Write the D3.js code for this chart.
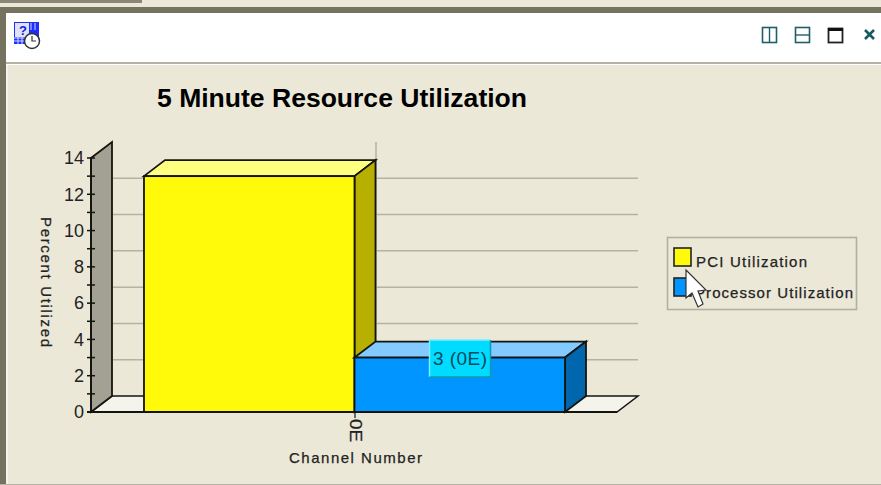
<!DOCTYPE html>
<html><head><meta charset="utf-8">
<script src="https://cdn.jsdelivr.net/npm/d3@7/dist/d3.min.js"></script>
<style>html,body{margin:0;padding:0;background:#ebe8d8;overflow:hidden}svg{display:block}text{font-family:"Liberation Sans",Arial,sans-serif;fill:#111}</style>
</head><body><svg id="c" width="881" height="485"></svg>
<script>
const titleText="5 Minute Resource Utilization";
const yLabel="Percent Utilized";
const xLabel="Channel Number";
const categories=["0E"];
const seriesNames=["PCI Utilization","Processor Utilization"];
const seriesValues=[13,3];
const seriesColors=[{front:"#fff90a",top:"#ffff80",side:"#b8b000"},{front:"#0095ff",top:"#82caff",side:"#0066ad"}];
const yTicks=[0,2,4,6,8,10,12,14];
const yMinor=[1,3,5,7,9,11,13];
const tooltip="3 (0E)";

const svg=d3.select("#c");
const W=881,H=485,ink="#14140e";
const rect=(x,y,w,h,f,extra={})=>{const r=svg.append("rect").attr("x",x).attr("y",y).attr("width",w).attr("height",h).attr("fill",f);
  for(const k in extra) r.attr(k,extra[k]);return r;};
const poly=(pts,f,s,sw=1.8)=>svg.append("polygon").attr("points",pts.map(p=>p.join(",")).join(" ")).attr("fill",f).attr("stroke",s||"none").attr("stroke-width",sw).attr("stroke-linejoin","miter");
const line=(x1,y1,x2,y2,s,sw=1)=>svg.append("line").attr("x1",x1).attr("y1",y1).attr("x2",x2).attr("y2",y2).attr("stroke",s).attr("stroke-width",sw);
const label=(sel)=>sel.style("fill","#222").attr("stroke","#222").attr("stroke-width",.25);

// window chrome
rect(0,0,W,H,"#ebe8d8");
rect(0,0,142,3,"#8a8778");
rect(0,7,W,6,"#75725f");
rect(0,7,6,H-7,"#75725f");
rect(6,13,W-6,49,"#ffffff");
rect(6,62,W-6,2,"#b5b2a3");
rect(6,64,W-6,1,"#ffffff");
rect(6,65,2,H-65,"#f6f4ea");
rect(0,484,W,1,"#b5b2a3");

// header icons
rect(14,22,25,22,"#1c2dff");
rect(15,23,14,14,"#dfe3f5");
[18,22,26,30,34].forEach(v=>line(v,36,v,44,"#d8dcff",1));
[38,41].forEach(v=>line(14,v,30,v,"#d8dcff",1));
[31,35].forEach(v=>line(v,23,v,30,"#d8dcff",1));
svg.append("text").attr("x",19).attr("y",35).attr("font-size",13).attr("font-weight","bold").style("fill","#1020e0").text("?");
svg.append("circle").attr("cx",32).attr("cy",41).attr("r",7.5).attr("fill","#fff").attr("stroke","#333").attr("stroke-width",1.5);
svg.append("path").attr("d","M32 36V41H36").attr("fill","none").attr("stroke","#333").attr("stroke-width",1.2);
const teal="#1f6068";
rect(762.5,27.5,14,15,"none",{stroke:teal,"stroke-width":1.6}); line(769.5,27,769.5,43,teal,1.4);
rect(795.5,27.5,14,15,"none",{stroke:teal,"stroke-width":1.6}); line(795,35,810,35,teal,1.4);
rect(828.5,28.5,14,14,"none",{stroke:"#222","stroke-width":1.8}); line(828,29.5,843,29.5,"#111",3);
svg.append("path").attr("d","M865 30L874 39M874 30L865 39").attr("stroke","#155a60").attr("stroke-width",2.6);

// scales and depth
const y=d3.scaleLinear().domain([0,14]).range([412,158]);
const x=d3.scaleBand().domain(seriesNames).range([144,565]).paddingInner(0);
const axisX=91,endX=617,dx=21,dy=-16;
const y0=y(0),yT=y(14);

// title
svg.append("text").attr("x",342).attr("y",107).attr("text-anchor","middle").attr("font-size",26).attr("font-weight","bold").attr("textLength",370).attr("lengthAdjust","spacingAndGlyphs").style("fill","#000").text(titleText);

// floor and wall
poly([[axisX,y0],[axisX+dx,y0+dy],[endX+dx,y0+dy],[endX,y0]],"#f4f3ec",ink,1.5);
poly([[axisX,y0],[axisX+dx,y0+dy],[axisX+dx,yT+dy],[axisX,yT]],"#a3a094",ink,1.8);

// gridlines on the back wall
yTicks.filter(v=>v>0).forEach(v=>{ if(v<14) line(axisX+dx+1,y(v)+dy,endX+dx,y(v)+dy,"#b5b2a3",1.5);});
line(376,yT+dy,376,y0+dy,"#b5b2a3",1.5);

// 3D bars
seriesNames.forEach((n,i)=>{
  const bx=x(n),bw=x.bandwidth(),by=y(seriesValues[i]),c=seriesColors[i];
  poly([[bx,by],[bx+dx,by+dy],[bx+bw+dx,by+dy],[bx+bw,by]],c.top,ink);
  poly([[bx+bw,by],[bx+bw+dx,by+dy],[bx+bw+dx,y0+dy],[bx+bw,y0]],c.side,ink);
  rect(bx,by,bw,y0-by,c.front,{stroke:ink,"stroke-width":1.8});
});
line(axisX-4,y0,endX,y0,ink,1.8);

// y axis
line(axisX,yT,axisX,y0,ink,1.8);
const yAxis=d3.axisLeft(y).tickValues(yTicks).tickSize(0).tickPadding(7);
const ag=svg.append("g").attr("transform",`translate(${axisX},0)`).call(yAxis);
ag.select(".domain").remove();
ag.selectAll("text").attr("font-size",18).style("fill","#222").style("font-family",'"Liberation Sans",Arial,sans-serif');
yTicks.concat(yMinor).forEach(v=>line(axisX-4,y(v),axisX+4,y(v),ink,1.5));

// x axis category
line(355,y0,355,y0+6,ink,1.2);
categories.forEach(c=>label(svg.append("text").attr("transform","translate(349.5,419) rotate(90)").attr("font-size",16).attr("textLength",23).attr("lengthAdjust","spacingAndGlyphs")).text(c));
label(svg.append("text").attr("x",289).attr("y",463).attr("font-size",15).attr("textLength",133)).text(xLabel);
label(svg.append("text").attr("transform","translate(41,217) rotate(90)").attr("font-size",15).attr("textLength",130)).text(yLabel);

// legend
rect(667.5,237.5,189,72,"none",{stroke:"#b3b0a2","stroke-width":1.6});
const legendWidths=[111,158];
seriesNames.forEach((n,i)=>{
  const ly=248+i*30;
  rect(674,ly,17,18,seriesColors[i].front,{stroke:"#222","stroke-width":1.6});
  label(svg.append("text").attr("x",i?695:696).attr("y",ly+19+(i?1:0)).attr("font-size",15).attr("textLength",legendWidths[i])).text(n);
});

// tooltip
rect(429.5,340,61,37,"#00dcff");
svg.append("path").attr("d","M429.5 377V340H490.5").attr("fill","none").attr("stroke","#7beeff").attr("stroke-width",1.5);
svg.append("path").attr("d","M429.5 377H490.5V340").attr("fill","none").attr("stroke","#1596ad").attr("stroke-width",1.5);
svg.append("text").attr("x",433).attr("y",365).attr("font-size",19).attr("textLength",54).style("fill","#064a5e").text(tooltip);

// mouse cursor
svg.append("path").attr("d","M686 270V298L692 293L698 307L703 304L698 291L706 290Z").attr("fill","#fff").attr("stroke","#333").attr("stroke-width",1.2);
</script></body></html>
